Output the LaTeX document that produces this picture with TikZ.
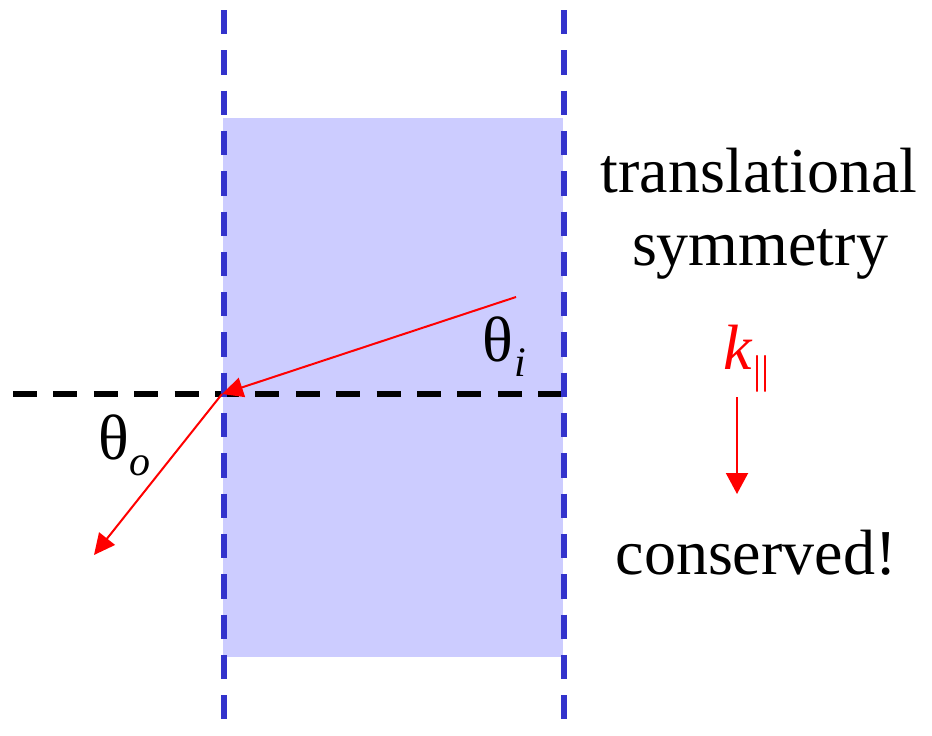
\documentclass[tikz,border=0pt]{standalone}
\usepackage{fontspec}
\setmainfont{Liberation Serif}
\usetikzlibrary{arrows.meta}
\definecolor{slabfill}{HTML}{CCCCFF}
\definecolor{edgeblue}{HTML}{3333CC}
\definecolor{rayred}{HTML}{FF0000}
\begin{document}
\begin{tikzpicture}[x=1pt,y=-1pt,
  bigtext/.style={inner sep=0pt,outer sep=0pt,font=\fontsize{64}{73}\selectfont},
  subtext/.style={inner sep=0pt,outer sep=0pt,font=\fontsize{42}{42}\selectfont\itshape},
  ray/.style={draw=rayred,line width=2pt,-{Triangle[length=21pt,width=20pt]}},
  edgeline/.style={draw=edgeblue,line width=6pt,dash pattern=on 24.3pt off 16pt},
  axisline/.style={draw=black,line width=6pt,dash pattern=on 24pt off 16.4pt}]
\useasboundingbox (0,0) rectangle (932,736);
% slab
\fill[slabfill] (223,118) rectangle (563,656.5);
% normal / axis line
\coordinate (axL) at (13,394);
\coordinate (axR) at (564,394);
\draw[axisline] (axL) -- (axR);
% boundaries
\coordinate (lt) at (224,10);
\coordinate (lb) at (224,719);
\coordinate (rt) at (564,10);
\coordinate (rb) at (564,719);
\draw[edgeline] (lt) -- (lb);
\draw[edgeline] (rt) -- (rb);
% rays
\coordinate (src) at (516,297);
\coordinate (hit) at (222,394);
\coordinate (out) at (94,555);
\draw[ray] (src) -- (hit);
\draw[ray] (hit) -- (out);
% angle labels
\node[bigtext,anchor=base west] (thi) at (482,361) {θ};
\node[subtext,anchor=base west] (thisub) at (514,376) {i};
\node[bigtext,anchor=base west] (tho) at (98,459) {θ};
\node[subtext,anchor=base west] (thosub) at (129,475) {o};
% right-hand text
\node[bigtext,anchor=base] (t1) at (759,192) {translational};
\node[bigtext,anchor=base] (t2) at (760,265) {symmetry};
\node[bigtext,anchor=base,text=rayred,font=\fontsize{64}{73}\selectfont\itshape] (k) at (738,369) {k};
\node[inner sep=0pt,outer sep=0pt,anchor=base west,text=rayred,font=\fontsize{40}{40}\selectfont] (kpar) at (753,383) {||};
\node[bigtext,anchor=base] (t3) at (756,574) {conserved!};
\coordinate (ktop) at (737,397);
\coordinate (kbot) at (737,494);
\draw[ray,-{Triangle[length=21pt,width=22pt]}] (ktop) -- (kbot);
\end{tikzpicture}
\end{document}
